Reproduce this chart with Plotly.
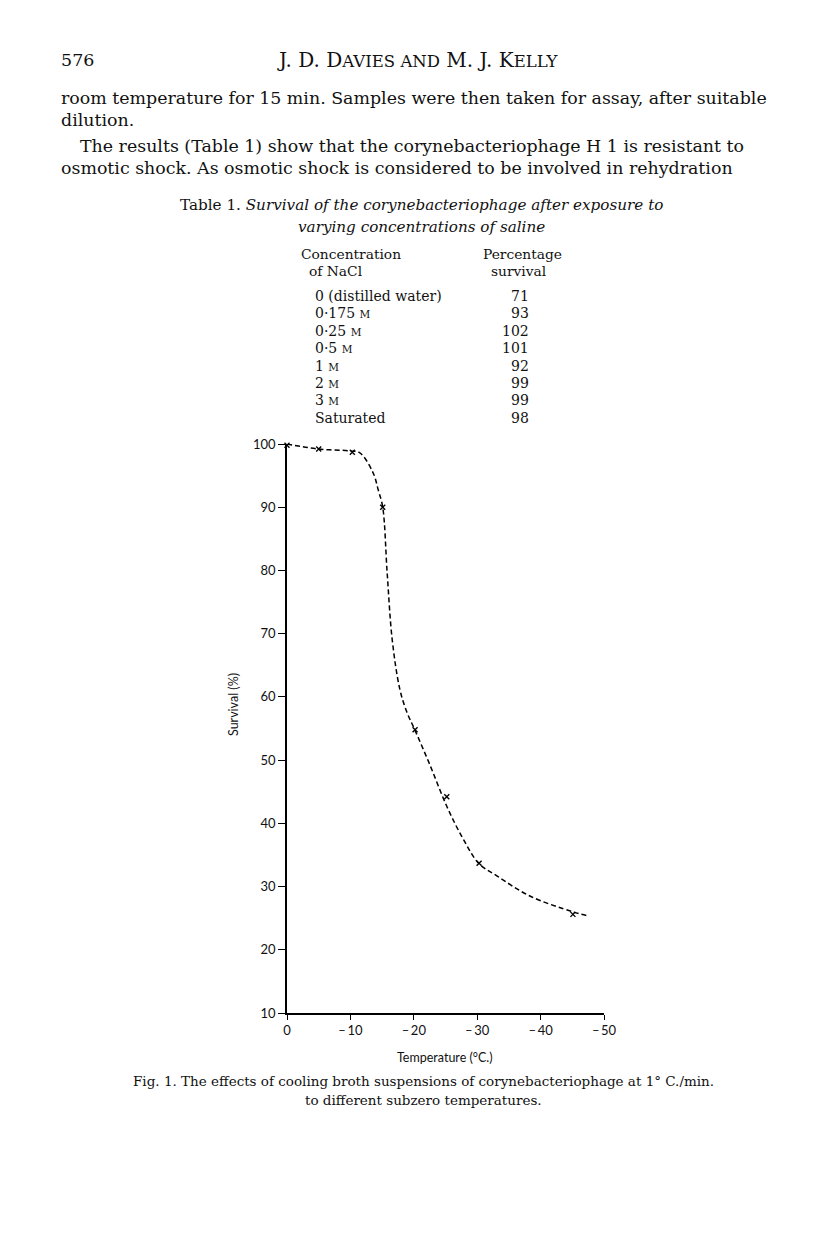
import plotly.graph_objects as go

# ---- data ----
point_temp = [0, -5, -10.3, -15.1, -20.2, -25.2, -30.3, -45.1]
point_surv = [99.8, 99.2, 98.7, 90.0, 54.8, 44.2, 33.7, 25.6]

curve_temp = [0, -5, -10, -11.5, -13.6, -14.4, -15.1, -15.8, -16.6, -17.8, -18.9, -20.2, -22.6, -25.2, -27.8,
              -30.3, -33.1, -38.3, -45.1, -47.3]
curve_surv = [100.0, 99.2, 98.9, 98.6, 95.4, 92.7, 90.0, 79.6, 69.0, 61.2, 57.6, 54.7, 49.1, 42.7, 37.5,
              33.6, 31.7, 28.5, 26.0, 25.4]

x_ticks = [0, -10, -20, -30, -40, -50]
x_ticktext = ["0", "\u2013\u200910", "\u2013\u200920", "\u2013\u200930", "\u2013\u200940", "\u2013\u200950"]
y_ticks = [10, 20, 30, 40, 50, 60, 70, 80, 90, 100]

table_conc = ["0 (distilled water)", "0\u00b7175 M", "0\u00b725 M", "0\u00b75 M", "1 M", "2 M", "3 M", "Saturated"]
table_surv = [71, 93, 102, 101, 92, 99, 99, 98]

# ---- layout geometry (page pixels; the page body has an 8px margin) ----
W, H = 816, 1234
OFF = 8
L, R, T, B = 287, 604, 444, 1013


def px(x):
    return (x - L) / (R - L)


def py(y):
    return (B - y) / (B - T)


SERIF = "DejaVu Serif"
SANS = "Lato"

fig = go.Figure()
fig.add_trace(go.Scatter(x=curve_temp, y=curve_surv, mode="lines", line_shape="spline",
                         line=dict(color="black", width=1.5, dash="5px,3px"), hoverinfo="skip",
                         showlegend=False))
fig.add_trace(go.Scatter(x=point_temp, y=point_surv, mode="markers",
                         marker=dict(symbol="x-thin", size=5, color="black",
                                     line=dict(color="black", width=1.4)),
                         cliponaxis=False, showlegend=False))

ann = []


def text(x, y, s, size, font=SERIF, xanchor="left", color="#111", **kw):
    ann.append(dict(x=px(x), y=py(y), xref="paper", yref="paper", text=s, showarrow=False,
                    xanchor=xanchor, yanchor="middle", font=dict(family=font, size=size, color=color), **kw))


def sc(s, size):
    return f"<span style='font-size:{size}px'>{s}</span>"


# header
text(59, 60, "576", 17.5)
text(418, 60, "J. D. D" + sc("AVIES AND", 16.5) + " M. J. K" + sc("ELLY", 16.5), 20, xanchor="center")

# body paragraph
BODY = 17.4
text(59, 98, "room temperature for 15 min. Samples were then taken for assay, after suitable", BODY)
text(59, 120, "dilution.", BODY)
text(78, 146, "The results (Table 1) show that the corynebacteriophage H 1 is resistant to", BODY)
text(59, 168, "osmotic shock. As osmotic shock is considered to be involved in rehydration", BODY)

# table caption
text(421, 205, "Table 1. <i>Survival of the corynebacteriophage after exposure to</i>", 15.2, xanchor="center")
text(421, 227, "<i>varying concentrations of saline</i>", 15.2, xanchor="center")

# table header
text(299, 254, "Concentration", 13.8)
text(307, 271, "of NaCl", 13.8)
text(522, 254, "Percentage", 13.8, xanchor="center")
text(518, 271, "survival", 13.8, xanchor="center")

row_y0, row_dy = 296, 17.4
for i, (c, v) in enumerate(zip(table_conc, table_surv)):
    yy = row_y0 + i * row_dy
    c_html = c.replace(" M", " " + sc("M", 10.5))
    text(313, yy, c_html, 14)
    text(531, yy, str(v), 14, xanchor="right")

# axis titles
text(445, 1057, "Temperature (\u00b0C.)", 12.5, font=SANS, xanchor="center")
text(233, 705, "Survival (%)", 12.5, font=SANS, xanchor="center", textangle=-90)

# figure caption
text(423, 1081, "Fig. 1. The effects of cooling broth suspensions of corynebacteriophage at 1\u00b0 C./min.", 13.5, xanchor="center")
text(423, 1100, "to different subzero temperatures.", 13.5, xanchor="center")

fig.update_layout(
    width=W, height=H,
    margin=dict(l=L - OFF, r=W - (R - OFF), t=T - OFF, b=H - (B - OFF), pad=0),
    paper_bgcolor="white", plot_bgcolor="white",
    annotations=ann,
    showlegend=False,
)
fig.update_xaxes(range=[0, -50], tickvals=x_ticks, ticktext=x_ticktext, showgrid=False, zeroline=False,
                 showline=True, linecolor="black", linewidth=1.6, ticks="outside", ticklen=5,
                 tickwidth=1.3, tickcolor="black",
                 tickfont=dict(family=SANS, size=13, color="#111"))
fig.update_yaxes(range=[10, 100], tickvals=y_ticks, showgrid=False, zeroline=False,
                 showline=True, linecolor="black", linewidth=1.6, ticks="outside", ticklen=7,
                 tickwidth=1.3, tickcolor="black",
                 tickfont=dict(family=SANS, size=13, color="#111"))

fig.write_html("out.html")
